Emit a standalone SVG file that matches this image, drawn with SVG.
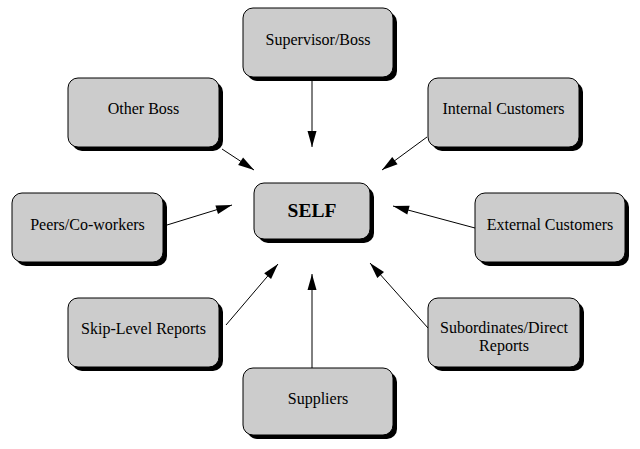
<svg xmlns="http://www.w3.org/2000/svg" width="640" height="449" viewBox="0 0 640 449">
<style>
.sh{fill:#000}
.bx{fill:#cccccc;stroke:#000;stroke-width:1}
.t{font-family:"Liberation Serif","Times New Roman",serif;font-size:16px;fill:#000;text-anchor:middle}
.b{font-weight:bold;font-size:19.5px}
.c{stroke:#000;stroke-width:1;fill:none;marker-end:url(#ah)}
</style>
<defs>
<marker id="ah" markerUnits="userSpaceOnUse" markerWidth="18" markerHeight="12" viewBox="0 0 18 12" refX="17" refY="6" orient="auto">
<path d="M1,1.5 L17,6 L1,10.5 Z" fill="#000"/>
</marker>
</defs>
<rect width="640" height="449" fill="#fff"/>
<g id="connectors">
<line class="c" x1="312" y1="80" x2="312" y2="147"/>
<line class="c" x1="222" y1="149" x2="254" y2="170"/>
<line class="c" x1="427" y1="137" x2="382" y2="170"/>
<line class="c" x1="167" y1="225" x2="232" y2="205"/>
<line class="c" x1="475" y1="228" x2="393" y2="206"/>
<line class="c" x1="226" y1="325" x2="278" y2="264"/>
<line class="c" x1="312" y1="368" x2="312" y2="274"/>
<line class="c" x1="428" y1="328" x2="370" y2="263"/>
</g>
<g id="supervisor">
<rect class="sh" x="247" y="12" width="150" height="69" rx="10"/>
<rect class="bx" x="243" y="8" width="150" height="69" rx="10"/>
<text class="t" x="318" y="45">Supervisor/Boss</text>
</g>
<g id="otherboss">
<rect class="sh" x="72" y="82" width="151" height="69" rx="10"/>
<rect class="bx" x="68" y="78" width="151" height="69" rx="10"/>
<text class="t" x="143.5" y="114">Other Boss</text>
</g>
<g id="internal">
<rect class="sh" x="432" y="82" width="151" height="69" rx="10"/>
<rect class="bx" x="428" y="78" width="151" height="69" rx="10"/>
<text class="t" x="503.5" y="114">Internal Customers</text>
</g>
<g id="peers">
<rect class="sh" x="16" y="197" width="151" height="69" rx="10"/>
<rect class="bx" x="12" y="193" width="151" height="69" rx="10"/>
<text class="t" x="87.5" y="230">Peers/Co-workers</text>
</g>
<g id="self">
<rect class="sh" x="258" y="187" width="116" height="56" rx="10"/>
<rect class="bx" x="254" y="183" width="116" height="56" rx="10"/>
<text class="t b" x="312" y="217">SELF</text>
</g>
<g id="external">
<rect class="sh" x="479" y="197" width="150" height="69" rx="10"/>
<rect class="bx" x="475" y="193" width="150" height="69" rx="10"/>
<text class="t" x="550" y="230">External Customers</text>
</g>
<g id="skiplevel">
<rect class="sh" x="72" y="302" width="151" height="69" rx="10"/>
<rect class="bx" x="68" y="298" width="151" height="69" rx="10"/>
<text class="t" x="143.5" y="334">Skip-Level Reports</text>
</g>
<g id="subordinates">
<rect class="sh" x="432" y="302" width="152" height="69" rx="10"/>
<rect class="bx" x="428" y="298" width="152" height="69" rx="10"/>
<text class="t" x="504" y="333">Subordinates/Direct</text>
<text class="t" x="504" y="351">Reports</text>
</g>
<g id="suppliers">
<rect class="sh" x="247" y="372" width="150" height="67" rx="10"/>
<rect class="bx" x="243" y="368" width="150" height="67" rx="10"/>
<text class="t" x="318" y="404">Suppliers</text>
</g>
</svg>
